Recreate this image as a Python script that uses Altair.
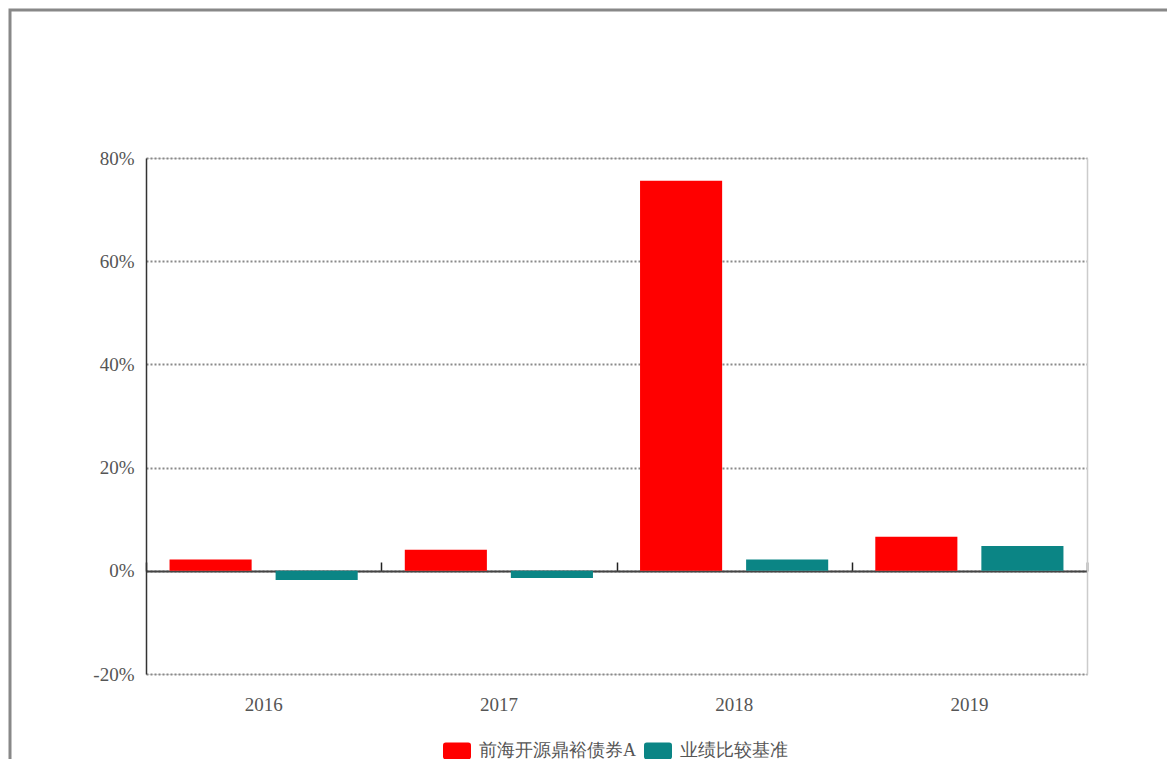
import altair as alt
import pandas as pd

years = ["2016", "2017", "2018", "2019"]
series = ["前海开源鼎裕债券A", "业绩比较基准"]
fund_values = [2.2, 4.1, 75.6, 6.6]
bench_values = [-1.8, -1.4, 2.2, 4.8]
colors = ["#FF0000", "#0B8585"]

rows = []
for y, f, b in zip(years, fund_values, bench_values):
    rows.append({"year": y, "series": series[0], "value": f / 100})
    rows.append({"year": y, "series": series[1], "value": b / 100})
df = pd.DataFrame(rows)

FONT = "'Liberation Serif', 'DejaVu Serif', serif"
W, H = 941, 516
LEFT, TOP = 138, 150

xscale = alt.Scale(domain=years, paddingInner=0, paddingOuter=0)
yscale = alt.Scale(domain=[-0.2, 0.8], nice=False)

rounded = "M-0.8,-0.6 L0.8,-0.6 Q1,-0.6 1,-0.4 L1,0.4 Q1,0.6 0.8,0.6 L-0.8,0.6 Q-1,0.6 -1,0.4 L-1,-0.4 Q-1,-0.6 -0.8,-0.6 Z"

bars = alt.Chart(df).mark_bar().encode(
    x=alt.X("year:N", scale=xscale, sort=years,
            axis=alt.Axis(title=None, domain=False, ticks=False, labelAngle=0,
                          labelPadding=21, labelFont=FONT, labelFontSize=19,
                          labelColor="#555")),
    xOffset=alt.XOffset("series:N", sort=series,
                        scale=alt.Scale(paddingInner=0.226, paddingOuter=0.222)),
    y=alt.Y("value:Q", scale=yscale,
            axis=alt.Axis(title=None, format=".0%", values=[-0.2, 0, 0.2, 0.4, 0.6, 0.8],
                          labelExpr="replace(datum.label, '\u2212', '-')",
                          ticks=False, domain=True, domainColor="#333", domainWidth=1.5,
                          grid=True, gridColor="#8a8a8a", gridWidth=2, gridDash=[2, 2],
                          labelPadding=12, labelFont=FONT, labelFontSize=19,
                          labelColor="#555")),
    color=alt.Color("series:N", sort=series,
                    scale=alt.Scale(domain=series, range=colors),
                    legend=alt.Legend(title=None, orient="none", direction="horizontal",
                                      legendX=297, legendY=579,
                                      symbolType=rounded, symbolSize=784,
                                      symbolStrokeWidth=0, symbolOpacity=1,
                                      labelFont=FONT, labelFontSize=18,
                                      labelColor="#555", columnPadding=8,
                                      labelOffset=8)),
)

zero_df = pd.DataFrame({"year": years, "zero": [0.0] * 4})
zero_axis = alt.Chart(zero_df).mark_tick(opacity=0).encode(
    x=alt.X("year:N", scale=xscale, sort=years,
            axis=alt.Axis(orient="top", offset=-413, title=None, labels=False,
                          domain=True, domainColor="#444", domainWidth=2,
                          ticks=True, tickBand="extent", tickColor="#222",
                          tickWidth=1.5, tickSize=9)),
    y=alt.Y("zero:Q", scale=yscale,
            axis=alt.Axis(orient="right", title=None, labels=False, ticks=False,
                          grid=False, domain=True, domainColor="#ccc",
                          domainWidth=1.5)),
)

frame = alt.Chart(pd.DataFrame({"a": [0]})).mark_rect(
    fill=None, stroke="#888", strokeWidth=3
).encode(
    x=alt.value(-136), x2=alt.value(1200), y=alt.value(-148), y2=alt.value(800)
)

chart = alt.layer(frame, bars, zero_axis).resolve_axis(
    x="independent", y="independent"
).properties(
    width=W, height=H,
    autosize=alt.AutoSizeParams(type="none"),
    padding={"left": LEFT, "top": TOP, "right": 80, "bottom": 85},
).configure_view(stroke=None).configure(background="white")

chart.save("out.html", embed_options={"renderer": "svg", "actions": False})
